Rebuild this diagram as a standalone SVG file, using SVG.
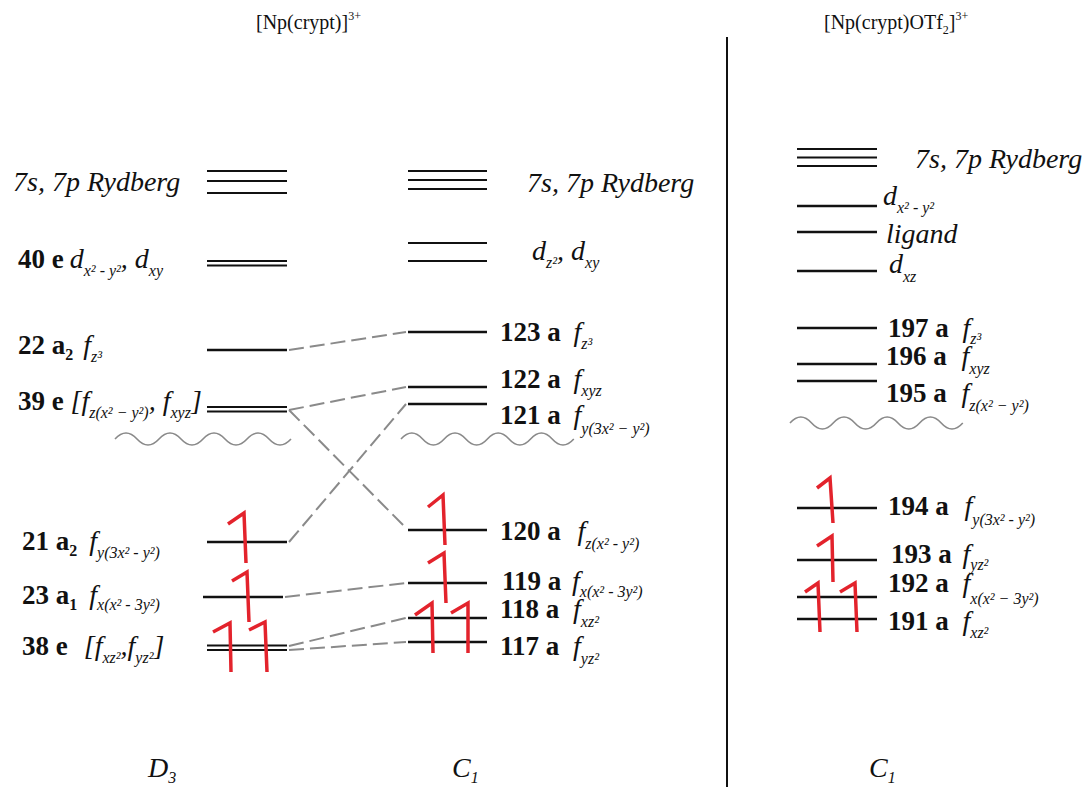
<svg xmlns="http://www.w3.org/2000/svg" width="1085" height="787" viewBox="0 0 1085 787">
<style>
text{font-family:"Liberation Serif","Times New Roman",serif;fill:#111}
.t{font-size:20px}
.tp{font-size:12px}
.r{font-size:28px;font-style:italic}
.b{font-size:27px;font-weight:bold}
.bs{font-size:16px;font-weight:bold}
.i{font-size:28px;font-style:italic}
.s{font-size:16px;font-style:italic}
.lv{stroke:#111;stroke-width:2.4;fill:none}
.dl{stroke:#111;stroke-width:2;fill:none}
.cn{stroke:#8a8a8a;stroke-width:2;stroke-dasharray:15 6;fill:none}
.wv{stroke:#8a8a8a;stroke-width:1.6;fill:none}
.ar{stroke:#e3232c;stroke-width:3.5;fill:none;stroke-linejoin:miter;stroke-linecap:butt}
</style>
<rect width="1085" height="787" fill="#fff"/>

<!-- titles -->
<g id="titles">
<text class="t" x="256" y="29">[Np(crypt)]<tspan class="tp" dy="-9">3+</tspan></text>
<text class="t" x="824" y="29">[Np(crypt)OTf<tspan class="tp" dy="5">2</tspan><tspan dy="-5">]</tspan><tspan class="tp" dy="-9">3+</tspan></text>
<line x1="727" y1="37" x2="727" y2="787" stroke="#111" stroke-width="2"/>
<text class="i" x="148" y="777">D<tspan class="s" dy="6">3</tspan></text>
<text class="i" x="452" y="777">C<tspan class="s" dy="6">1</tspan></text>
<text class="i" x="869" y="777">C<tspan class="s" dy="6">1</tspan></text>
</g>

<!-- connectors -->
<g id="connectors">
<line class="cn" x1="289" y1="350" x2="406" y2="332"/>
<line class="cn" x1="289" y1="410" x2="406" y2="387"/>
<line class="cn" x1="289" y1="410" x2="406" y2="528"/>
<line class="cn" x1="289" y1="542" x2="406" y2="404"/>
<line class="cn" x1="285" y1="597" x2="406" y2="583"/>
<line class="cn" x1="289" y1="646" x2="406" y2="618"/>
<line class="cn" x1="289" y1="650" x2="406" y2="642"/>
</g>

<!-- left column D3 -->
<g id="L-ryd">
<line class="dl" x1="207" y1="171" x2="287" y2="171"/>
<line class="dl" x1="207" y1="181" x2="287" y2="181"/>
<line class="dl" x1="207" y1="193" x2="287" y2="193"/>
<text class="r" x="13" y="191">7s, 7p Rydberg</text>
</g>
<g id="L-40e">
<line class="dl" x1="207" y1="261" x2="287" y2="261"/>
<line class="dl" x1="207" y1="265.5" x2="287" y2="265.5"/>
<text x="18" y="268"><tspan class="b">40 e</tspan><tspan class="i" dx="6">d</tspan><tspan class="s" dy="8">x² - y²</tspan><tspan class="i" dy="-8">, d</tspan><tspan class="s" dy="8">xy</tspan></text>
</g>
<g id="L-22a2">
<line class="lv" x1="207" y1="350" x2="287" y2="350"/>
<text x="18" y="354"><tspan class="b">22 a</tspan><tspan class="bs" dy="6">2</tspan><tspan class="i" dy="-6" dx="10">f</tspan><tspan class="s" dy="8">z³</tspan></text>
</g>
<g id="L-39e">
<line class="dl" x1="207" y1="407" x2="287" y2="407"/>
<line class="dl" x1="207" y1="411.5" x2="287" y2="411.5"/>
<text x="18" y="410"><tspan class="b">39 e </tspan><tspan class="i">[f</tspan><tspan class="s" dy="8">z(x² − y²)</tspan><tspan class="i" dy="-8">, f</tspan><tspan class="s" dy="8">xyz</tspan><tspan class="i" dy="-8">]</tspan></text>
</g>
<path id="L-wave" class="wv" d="M115,439 q11,-12 22,0 t22,0 t22,0 t22,0 t22,0 t22,0 t22,0 t22,0"/>
<g id="L-21a2">
<line class="lv" x1="207" y1="542" x2="287" y2="542"/>
<path class="ar" d="M228,524 L244,513 L246,563"/>
<text x="22" y="550"><tspan class="b">21 a</tspan><tspan class="bs" dy="6">2</tspan><tspan class="i" dy="-6" dx="12">f</tspan><tspan class="s" dy="8">y(3x² - y²)</tspan></text>
</g>
<g id="L-23a1">
<line class="lv" x1="203" y1="597" x2="283" y2="597"/>
<path class="ar" d="M232,581 L247,572 L249,622"/>
<text x="22" y="604"><tspan class="b">23 a</tspan><tspan class="bs" dy="6">1</tspan><tspan class="i" dy="-6" dx="12">f</tspan><tspan class="s" dy="6">x(x² - 3y²)</tspan></text>
</g>
<g id="L-38e">
<line class="dl" x1="207" y1="645.5" x2="287" y2="645.5"/>
<line class="dl" x1="207" y1="650" x2="287" y2="650"/>
<path class="ar" d="M213,632 L230,623 L231,672"/>
<path class="ar" d="M249,630 L265,622 L267,672"/>
<text x="22" y="655"><tspan class="b">38 e</tspan><tspan class="i" dx="16">[f</tspan><tspan class="s" dy="8">xz²</tspan><tspan class="i" dy="-8">,f</tspan><tspan class="s" dy="8">yz²</tspan><tspan class="i" dy="-8">]</tspan></text>
</g>

<!-- middle column C1 -->
<g id="M-ryd">
<line class="dl" x1="408" y1="171" x2="487" y2="171"/>
<line class="dl" x1="408" y1="180" x2="487" y2="180"/>
<line class="dl" x1="408" y1="189" x2="487" y2="189"/>
<text class="r" x="527" y="192">7s, 7p Rydberg</text>
</g>
<g id="M-d">
<line class="dl" x1="408" y1="243" x2="487" y2="243"/>
<line class="dl" x1="408" y1="261" x2="487" y2="261"/>
<text x="532" y="260"><tspan class="i">d</tspan><tspan class="s" dy="8">z²</tspan><tspan class="i" dy="-8">, d</tspan><tspan class="s" dy="8">xy</tspan></text>
</g>
<g id="M-123">
<line class="lv" x1="408" y1="332" x2="487" y2="332"/>
<text x="500" y="341"><tspan class="b">123 a </tspan><tspan class="i" dx="6">f</tspan><tspan class="s" dy="8">z³</tspan></text>
</g>
<g id="M-122">
<line class="lv" x1="408" y1="387" x2="487" y2="387"/>
<text x="500" y="388"><tspan class="b">122 a </tspan><tspan class="i" dx="6">f</tspan><tspan class="s" dy="8">xyz</tspan></text>
</g>
<g id="M-121">
<line class="lv" x1="408" y1="404" x2="487" y2="404"/>
<text x="500" y="424"><tspan class="b">121 a </tspan><tspan class="i" dx="6">f</tspan><tspan class="s" dy="10">y(3x² − y²)</tspan></text>
</g>
<path id="M-wave" class="wv" d="M401,439 q10.8,-12 21.6,0 t21.6,0 t21.6,0 t21.6,0 t21.6,0 t21.6,0 t21.6,0 t21.6,0"/>
<g id="M-120">
<line class="lv" x1="408" y1="530" x2="487" y2="530"/>
<path class="ar" d="M428,507 L443,495 L445,545"/>
<text x="500" y="540"><tspan class="b">120 a </tspan><tspan class="i" dx="10">f</tspan><tspan class="s" dy="9">z(x² - y²)</tspan></text>
</g>
<g id="M-119">
<line class="lv" x1="408" y1="583" x2="487" y2="583"/>
<path class="ar" d="M428,563 L444,553 L446,603"/>
<text x="502" y="590"><tspan class="b">119 a </tspan><tspan class="i" dx="4">f</tspan><tspan class="s" dy="7">x(x² - 3y²)</tspan></text>
</g>
<g id="M-118">
<line class="lv" x1="408" y1="618" x2="487" y2="618"/>
<text x="500" y="618"><tspan class="b">118 a </tspan><tspan class="i" dx="7">f</tspan><tspan class="s" dy="9">xz²</tspan></text>
</g>
<g id="M-117">
<line class="lv" x1="408" y1="642" x2="487" y2="642"/>
<path class="ar" d="M415,615 L432,603 L433,653"/>
<path class="ar" d="M451,613 L468,603 L468,653"/>
<text x="500" y="655"><tspan class="b">117 a </tspan><tspan class="i" dx="7">f</tspan><tspan class="s" dy="9">yz²</tspan></text>
</g>

<!-- right column C1 -->
<g id="R-ryd">
<line class="dl" x1="797" y1="149" x2="877" y2="149"/>
<line class="dl" x1="797" y1="157.5" x2="877" y2="157.5"/>
<line class="dl" x1="797" y1="166" x2="877" y2="166"/>
<text class="r" x="915" y="168">7s, 7p Rydberg</text>
</g>
<g id="R-dx2y2">
<line class="lv" x1="797" y1="206" x2="877" y2="206"/>
<text x="883" y="205"><tspan class="i">d</tspan><tspan class="s" dy="8">x² - y²</tspan></text>
</g>
<g id="R-ligand">
<line class="lv" x1="797" y1="232" x2="877" y2="232"/>
<text class="i" x="886" y="243" font-size="27">ligand</text>
</g>
<g id="R-dxz">
<line class="lv" x1="797" y1="271" x2="877" y2="271"/>
<text x="889" y="273"><tspan class="i">d</tspan><tspan class="s" dy="9">xz</tspan></text>
</g>
<g id="R-197">
<line class="lv" x1="797" y1="328" x2="877" y2="328"/>
<text x="888" y="337"><tspan class="b">197 a </tspan><tspan class="i" dx="7">f</tspan><tspan class="s" dy="7">z³</tspan></text>
</g>
<g id="R-196">
<line class="lv" x1="797" y1="364" x2="877" y2="364"/>
<text x="886" y="365"><tspan class="b">196 a </tspan><tspan class="i" dx="8">f</tspan><tspan class="s" dy="9">xyz</tspan></text>
</g>
<g id="R-195">
<line class="lv" x1="797" y1="381" x2="877" y2="381"/>
<text x="886" y="402"><tspan class="b">195 a </tspan><tspan class="i" dx="8">f</tspan><tspan class="s" dy="9">z(x² − y²)</tspan></text>
</g>
<path id="R-wave" class="wv" d="M790,423 q10.8,-12 21.6,0 t21.6,0 t21.6,0 t21.6,0 t21.6,0 t21.6,0 t21.6,0 t21.6,0"/>
<g id="R-194">
<line class="lv" x1="797" y1="508" x2="877" y2="508"/>
<path class="ar" d="M817,488 L830,478 L833,523"/>
<text x="888" y="515"><tspan class="b">194 a </tspan><tspan class="i" dx="9">f</tspan><tspan class="s" dy="10">y(3x² - y²)</tspan></text>
</g>
<g id="R-193">
<line class="lv" x1="797" y1="560" x2="877" y2="560"/>
<path class="ar" d="M817,546 L832,536 L833,582"/>
<text x="891" y="563"><tspan class="b">193 a </tspan><tspan class="i" dx="4">f</tspan><tspan class="s" dy="7">yz²</tspan></text>
</g>
<g id="R-192">
<line class="lv" x1="797" y1="597" x2="877" y2="597"/>
<text x="888" y="592"><tspan class="b">192 a </tspan><tspan class="i" dx="7">f</tspan><tspan class="s" dy="12">x(x² − 3y²)</tspan></text>
</g>
<g id="R-191">
<line class="lv" x1="797" y1="619" x2="877" y2="619"/>
<path class="ar" d="M805,592 L818,583 L820,632"/>
<path class="ar" d="M840,592 L855,583 L857,632"/>
<text x="888" y="630"><tspan class="b">191 a </tspan><tspan class="i" dx="7">f</tspan><tspan class="s" dy="8">xz²</tspan></text>
</g>
</svg>
